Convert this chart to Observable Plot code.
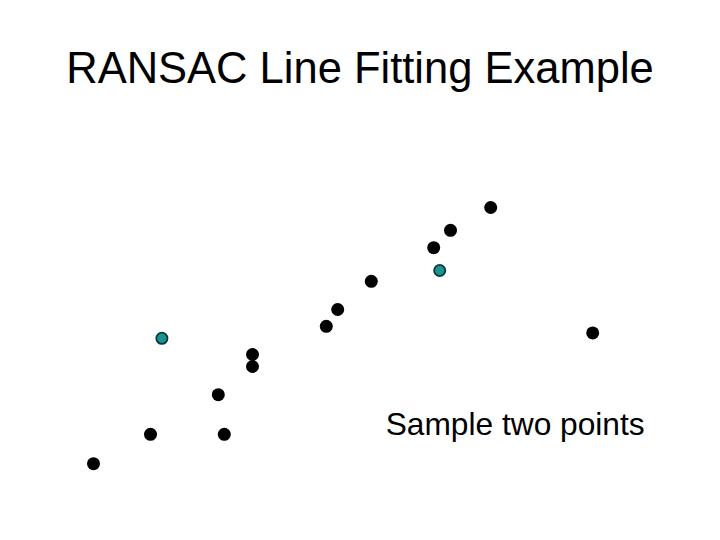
<!DOCTYPE html>
<html>
<head>
<meta charset="utf-8">
<script src="https://cdn.jsdelivr.net/npm/d3@7"></script>
<script src="https://cdn.jsdelivr.net/npm/@observablehq/plot@0.6"></script>
<style>
  html, body { margin: 0; padding: 0; background: #fff; }
  #title {
    width: 720px; height: 93px; box-sizing: border-box;
    padding-top: 43px; line-height: 50px;
    font-family: "Liberation Sans", Arial, sans-serif; font-size: 43.5px;
    text-align: center; color: #000; white-space: nowrap;
  }
  #chart svg { display: block; }
</style>
</head>
<body>
<div id="title">RANSAC Line Fitting Example</div>
<div id="chart"></div>
<script>
// Data points (arbitrary units)
const pointX = [1.55, 2.50, 3.73, 3.63, 4.20, 4.20, 5.43, 5.62, 6.18, 7.22, 7.50, 8.17, 9.87];
const pointY = [1.28, 1.77, 1.77, 2.43, 3.10, 2.90, 3.57, 3.85, 4.32, 4.88, 5.17, 5.55, 3.46];
// The two sampled points
const sampleX = [2.69, 7.32];
const sampleY = [3.37, 4.50];
// Annotation
const noteText = ["Sample two points"];
const noteX = [6.42];
const noteY = [1.92];

const points = pointX.map((x, i) => ({x, y: pointY[i]}));
const samples = sampleX.map((x, i) => ({x, y: sampleY[i]}));
const notes = noteText.map((t, i) => ({t, x: noteX[i], y: noteY[i]}));

const chart = Plot.plot({
  width: 720,
  height: 447,
  margin: 0,
  x: {domain: [0, 12], axis: null},
  y: {domain: [0, 7.45], axis: null},
  style: {background: "#fff"},
  marks: [
    Plot.dot(points, {x: "x", y: "y", r: 6.5, fill: "#000", stroke: "none"}),
    Plot.dot(samples, {x: "x", y: "y", r: 5.6, fill: "#1a9393", stroke: "#0c3a3a", strokeWidth: 1.8}),
    Plot.text(notes, {x: "x", y: "y", text: "t", textAnchor: "start", lineAnchor: "middle",
      fontSize: 31.7, fontFamily: "Liberation Sans, Arial, sans-serif", fill: "#000"})
  ]
});
document.getElementById("chart").append(chart);
</script>
</body>
</html>
